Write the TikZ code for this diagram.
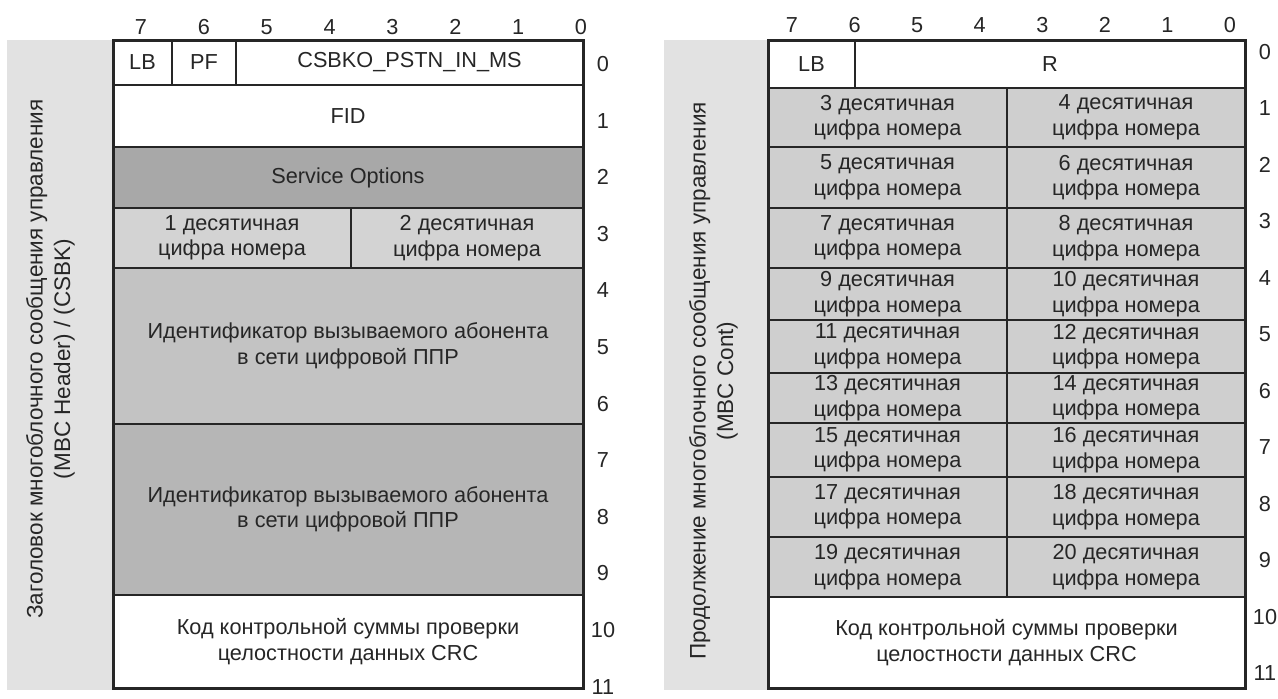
\documentclass[tikz,border=0pt]{standalone}
\usepackage{fontspec}
\setmainfont{Liberation Sans}
\usepackage{xcolor}
\definecolor{ink}{HTML}{262626}
\definecolor{panelgray}{HTML}{E2E2E2}
\definecolor{optgray}{HTML}{A8A8A8}
\definecolor{diggray}{HTML}{D3D3D3}
\definecolor{idgray}{HTML}{C3C3C3}
\definecolor{idgrayb}{HTML}{B6B6B6}
\definecolor{contgray}{HTML}{CFCFCF}

\begin{document}
\begin{tikzpicture}[
  x=1pt, y=-1pt,
  font=\fontsize{21.7}{25.5}\selectfont, text=ink,
  cell/.style={draw=ink, line width=2.7pt, inner sep=0pt, outer sep=0pt, align=center},
  sz/.style 2 args={minimum width=#1pt, minimum height=#2pt},
  panel/.style={fill=panelgray, inner sep=0pt, outer sep=0pt},
  side/.style={rotate=90, align=center, font=\fontsize{22.5}{27.5}\selectfont},
  num/.style={inner sep=0pt}
]
  \useasboundingbox (0,0) rectangle (1278,699);

  % side panels
  \node[panel, sz={105}{650}] (hdr)  at (59.5,365) {};
  \node[panel, sz={104}{650}] (cont) at (716,365) {};
  \node[side] (hdrtxt) at (50.5,359)
    {Заголовок многоблочного сообщения управления\\(MBC Header) / (CSBK)};
  \node[side] (conttxt) at (713.5,381)
    {Продолжение многоблочного сообщения управления\\(MBC Cont)};

  % left frame: MBC header
  \node[cell, fill=white, sz={59}{45}]    (lb)   at (142.5,62.5) {LB};
  \node[cell, fill=white, sz={64}{45}]    (pf)   at (204,62.5)   {PF};
  \node[cell, fill=white, sz={347}{45}]   (op)   at (409.5,62.5) {CSBKO\_PSTN\_IN\_MS};
  \node[cell, fill=white, sz={470}{62}]   (fid)  at (348,116)    {FID};
  \node[cell, fill=optgray, sz={470}{61}] (so)   at (348,177.5)  {Service Options};
  \node[cell, fill=diggray, sz={238}{60}] (dig1) at (232,238)    {1 десятичная\\цифра номера};
  \node[cell, fill=diggray, sz={232}{60}] (dig2) at (467,238)    {2 десятичная\\цифра номера};
  \node[cell, fill=idgray, sz={470}{156}] (ida)  at (348,346)
    {Идентификатор вызываемого абонента\\в сети цифровой ППР};
  \node[cell, fill=idgrayb, sz={470}{171}] (idb) at (348,509.5)
    {Идентификатор вызываемого абонента\\в сети цифровой ППР};
  \node[cell, fill=white, sz={470}{93}]   (crc)  at (348,641.5)
    {Код контрольной суммы проверки\\целостности данных CRC};
  \draw[draw=ink, line width=3pt] (lb.north west) rectangle (crc.south east);

  \foreach \b [count=\i from 0] in {7,6,...,0}
    \node[num] (bita\b) at (141+62.86*\i,27) {\b};
  \foreach \r in {0,...,11}
    \node[num] (rowa\r) at (603,64+56.6*\r) {\r};

  % right frame: MBC continuation
  \node[cell, fill=white, sz={87}{48}]  (lbc) at (811.5,64) {LB};
  \node[cell, fill=white, sz={390}{48}] (rc)  at (1050,64)  {R};
  \foreach \top/\bot [count=\k] in {88/147,147/208,208/268,268/320,320/373,
                                     373/423,423/477,477/537,537/597} {
    \pgfmathtruncatemacro\da{2*\k+1}
    \pgfmathtruncatemacro\db{2*\k+2}
    \node[cell, fill=contgray, minimum width=239pt, minimum height={\bot-\top}]
      (dig\da) at (887.5,{(\top+\bot)/2}) {\da\ десятичная\\цифра номера};
    \node[cell, fill=contgray, minimum width=238pt, minimum height={\bot-\top}]
      (dig\db) at (1126,{(\top+\bot)/2}) {\db\ десятичная\\цифра номера};
  }
  \node[cell, fill=white, sz={477}{91}] (crcc) at (1006.5,642.5)
    {Код контрольной суммы проверки\\целостности данных CRC};
  \draw[draw=ink, line width=3pt] (lbc.north west) rectangle (crcc.south east);

  \foreach \b [count=\i from 0] in {7,6,...,0}
    \node[num] (bitb\b) at (792+62.57*\i,25) {\b};
  \foreach \r in {0,...,11}
    \node[num] (rowb\r) at (1265,52+56.5*\r) {\r};
\end{tikzpicture}
\end{document}
